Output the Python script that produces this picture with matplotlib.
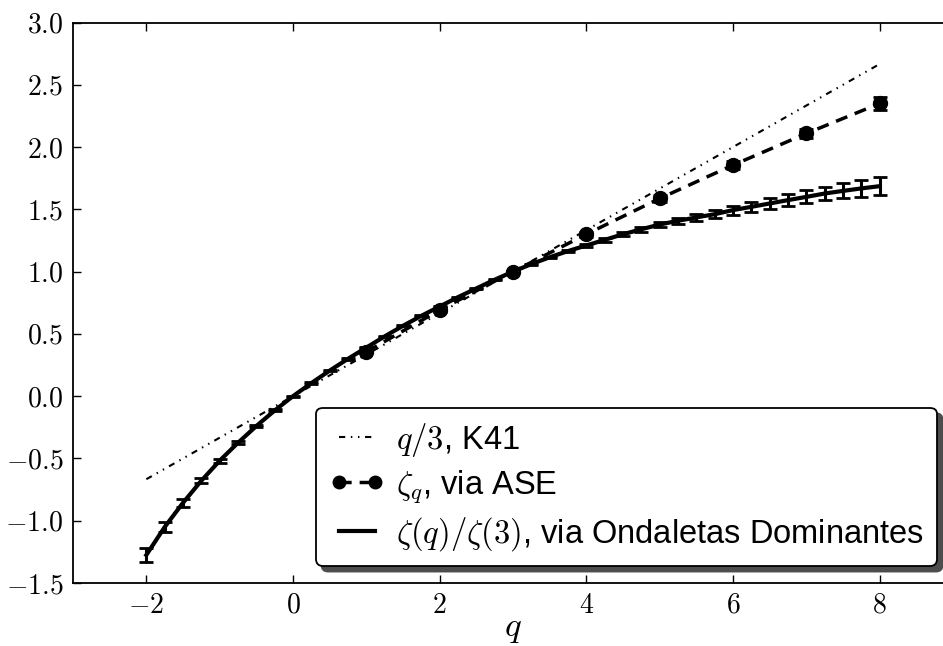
import numpy as np
import matplotlib
matplotlib.use("Agg")
import matplotlib.pyplot as plt
from matplotlib.ticker import FuncFormatter, MultipleLocator

plt.rcParams['font.family'] = ['Liberation Sans', 'DejaVu Sans']
plt.rcParams['mathtext.fontset'] = 'cm'

# K41 line
q_k41 = [-2, 8]
k41 = [-2 / 3, 8 / 3]

# zeta_q via ASE
q_ase = [1, 2, 3, 4, 5, 6, 7, 8]
zeta_ase = [0.356, 0.691, 1.0, 1.30, 1.587, 1.855, 2.109, 2.35]
err_ase = [0.01, 0.015, 0.005, 0.02, 0.025, 0.03, 0.035, 0.05]

# zeta(q)/zeta(3) via dominant wavelets
q_wl = [-2.0, -1.75, -1.5, -1.25, -1.0, -0.75, -0.5, -0.25,
        0.0, 0.25, 0.5, 0.75, 1.0, 1.25, 1.5, 1.75,
        2.0, 2.25, 2.5, 2.75, 3.0, 3.25, 3.5, 3.75,
        4.0, 4.25, 4.5, 4.75, 5.0, 5.25, 5.5, 5.75,
        6.0, 6.25, 6.5, 6.75, 7.0, 7.25, 7.5, 7.75, 8.0]
zeta_wl = [-1.275, -1.051, -0.856, -0.679, -0.518, -0.374, -0.240, -0.115,
           0.0, 0.105, 0.205, 0.300, 0.390, 0.480, 0.565, 0.645,
           0.720, 0.795, 0.865, 0.935, 1.0, 1.060, 1.115, 1.165,
           1.210, 1.255, 1.300, 1.340, 1.378, 1.408, 1.435, 1.461,
           1.494, 1.520, 1.547, 1.574, 1.600, 1.627, 1.648, 1.668, 1.686]
err_wl = [0.06, 0.04, 0.03, 0.02, 0.015, 0.012, 0.01, 0.008,
          0.005, 0.005, 0.006, 0.006, 0.006, 0.006, 0.005, 0.005,
          0.004, 0.004, 0.003, 0.003, 0.002, 0.004, 0.006, 0.008,
          0.012, 0.014, 0.016, 0.018, 0.02, 0.025, 0.028, 0.032,
          0.036, 0.04, 0.044, 0.048, 0.052, 0.056, 0.06, 0.065, 0.07]

fig = plt.figure(figsize=(9.43, 6.46), dpi=100)
ax = fig.add_axes([73 / 943, 63 / 646, 880 / 943, 560.5 / 646])

ax.plot(q_k41, k41, color='k', lw=1.5, dashes=(3, 2.7, 0.7, 2.7, 0.7, 2.7),
        label=r'$q/3$, K41')
ax.errorbar(q_ase, zeta_ase, yerr=err_ase, fmt='none', ecolor='k',
            elinewidth=1.5, capsize=5, capthick=2)
ax.plot(q_ase, zeta_ase, color='k', lw=2.5, dashes=(3.5, 2.3), marker='o',
        markersize=10, label=r'$\zeta_q$, via ASE')
ax.errorbar(q_wl, zeta_wl, yerr=err_wl, fmt='none', ecolor='k',
            elinewidth=2.2, capsize=5, capthick=2)
ax.plot(q_wl, zeta_wl, color='k', lw=3,
        label=r'$\zeta(q)/\zeta(3)$, via Ondaletas Dominantes')

ax.set_xlim(-3, 9)
ax.set_ylim(-1.5, 3.0)
ax.xaxis.set_major_locator(MultipleLocator(2))
ax.yaxis.set_major_locator(MultipleLocator(0.5))
ax.xaxis.set_major_formatter(FuncFormatter(lambda v, p: f'${v:.0f}$'))
ax.yaxis.set_major_formatter(FuncFormatter(lambda v, p: f'${v:.1f}$'))
ax.tick_params(direction='in', top=True, right=True, length=6, width=1,
               labelsize=20, pad=7)
for s in ax.spines.values():
    s.set_linewidth(1.3)
ax.set_xlabel(r'$q$', fontsize=25, labelpad=-5)

leg = ax.legend(loc='lower right', bbox_to_anchor=(937 / 943, 80 / 646),
                bbox_transform=fig.transFigure, borderaxespad=0,
                fontsize=23.5, numpoints=2, handlelength=1.7,
                handletextpad=0.35, fancybox=True,
                shadow={'ox': 4, 'oy': -4, 'color': '0.3', 'alpha': 1.0},
                framealpha=1, labelspacing=0.3, borderpad=0.4,
                markerscale=0.9)
leg.get_frame().set_edgecolor('k')
leg.get_frame().set_linewidth(1.3)

fig.savefig('out.png', dpi=100)
